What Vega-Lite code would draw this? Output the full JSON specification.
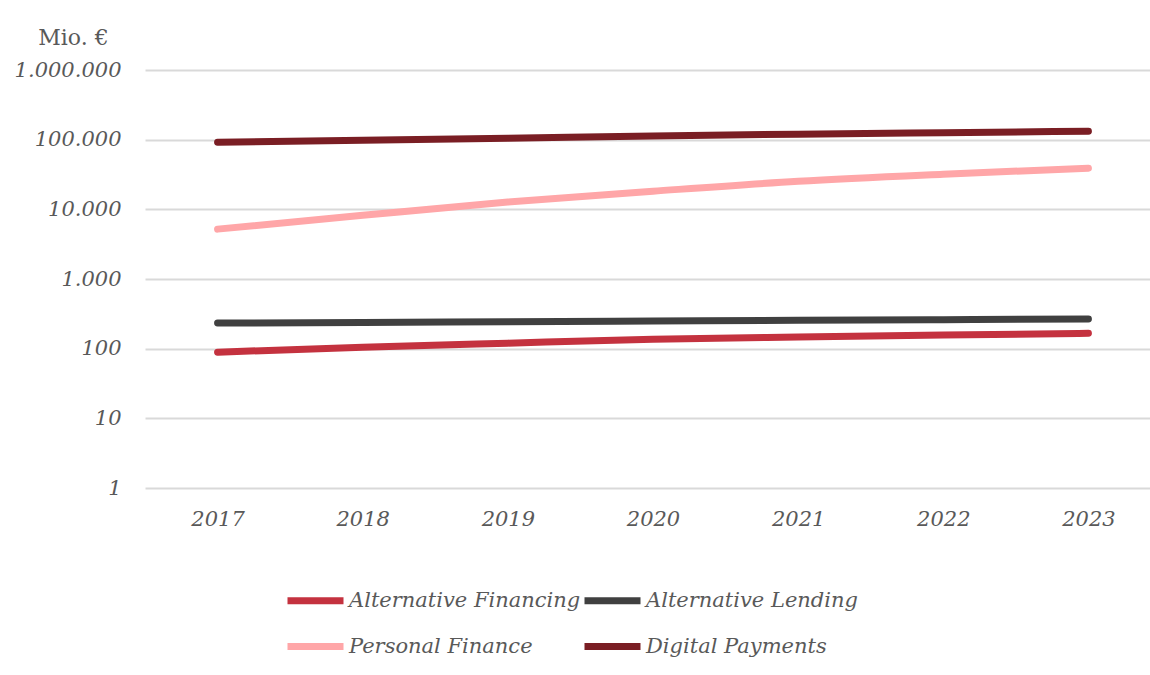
{
  "$schema": "https://vega.github.io/schema/vega-lite/v6.json",
  "autosize": {"type": "none"},
  "padding": {"left": 145, "top": 70, "right": 0, "bottom": 187},
  "width": 1016,
  "height": 418,
  "background": "white",
  "config": {
    "locale": {"number": {"decimal": ",", "thousands": ".", "grouping": [3], "currency": ["", " €"]}},
    "view": {"stroke": null},
    "font": "DejaVu Serif"
  },
  "data": {
    "values": [
      {"year": "2017", "segment": "Alternative Financing", "value": 89},
      {"year": "2018", "segment": "Alternative Financing", "value": 105},
      {"year": "2019", "segment": "Alternative Financing", "value": 120},
      {"year": "2020", "segment": "Alternative Financing", "value": 136},
      {"year": "2021", "segment": "Alternative Financing", "value": 147},
      {"year": "2022", "segment": "Alternative Financing", "value": 157},
      {"year": "2023", "segment": "Alternative Financing", "value": 166},
      {"year": "2017", "segment": "Alternative Lending", "value": 233},
      {"year": "2018", "segment": "Alternative Lending", "value": 238},
      {"year": "2019", "segment": "Alternative Lending", "value": 244},
      {"year": "2020", "segment": "Alternative Lending", "value": 250},
      {"year": "2021", "segment": "Alternative Lending", "value": 256},
      {"year": "2022", "segment": "Alternative Lending", "value": 261},
      {"year": "2023", "segment": "Alternative Lending", "value": 266},
      {"year": "2017", "segment": "Personal Finance", "value": 5200},
      {"year": "2018", "segment": "Personal Finance", "value": 8200},
      {"year": "2019", "segment": "Personal Finance", "value": 12700},
      {"year": "2020", "segment": "Personal Finance", "value": 18200},
      {"year": "2021", "segment": "Personal Finance", "value": 25300},
      {"year": "2022", "segment": "Personal Finance", "value": 32000},
      {"year": "2023", "segment": "Personal Finance", "value": 39000},
      {"year": "2017", "segment": "Digital Payments", "value": 92000},
      {"year": "2018", "segment": "Digital Payments", "value": 98000},
      {"year": "2019", "segment": "Digital Payments", "value": 105000},
      {"year": "2020", "segment": "Digital Payments", "value": 113000},
      {"year": "2021", "segment": "Digital Payments", "value": 120000},
      {"year": "2022", "segment": "Digital Payments", "value": 126000},
      {"year": "2023", "segment": "Digital Payments", "value": 132000}
    ]
  },
  "mark": {"type": "line", "strokeWidth": 7, "strokeCap": "round", "interpolate": "monotone"},
  "encoding": {
    "x": {
      "field": "year",
      "type": "ordinal",
      "scale": {"type": "point", "padding": 0.5},
      "axis": {
        "title": null,
        "labelAngle": 0,
        "domain": false,
        "ticks": false,
        "grid": false,
        "labelFont": "DejaVu Serif",
        "labelFontStyle": "italic",
        "labelFontSize": 21,
        "labelColor": "#595959",
        "labelPadding": 20
      }
    },
    "y": {
      "field": "value",
      "type": "quantitative",
      "scale": {"type": "log", "domain": [1, 1000000], "nice": false},
      "axis": {
        "values": [1, 10, 100, 1000, 10000, 100000, 1000000],
        "format": ",d",
        "title": "Mio. €",
        "titleAngle": 0,
        "titleX": -72,
        "titleY": -33,
        "titleAlign": "center",
        "titleBaseline": "middle",
        "titleFont": "DejaVu Serif",
        "titleFontWeight": "normal",
        "titleFontSize": 22,
        "titleColor": "#595959",
        "domain": false,
        "ticks": false,
        "grid": true,
        "gridColor": "#d9d9d9",
        "gridWidth": 2,
        "labelFont": "DejaVu Serif",
        "labelFontStyle": "italic",
        "labelFontSize": 21,
        "labelColor": "#595959",
        "labelPadding": 24
      }
    },
    "color": {
      "field": "segment",
      "type": "nominal",
      "scale": {
        "domain": ["Alternative Financing", "Alternative Lending", "Personal Finance", "Digital Payments"],
        "range": ["#c4323f", "#404040", "#ffa6a8", "#7a1e24"]
      },
      "legend": {
        "title": null,
        "orient": "none",
        "legendX": 139,
        "legendY": 499,
        "columns": 2,
        "direction": "horizontal",
        "symbolType": "stroke",
        "symbolSize": 3136,
        "symbolStrokeWidth": 7,
        "labelFont": "DejaVu Serif",
        "labelFontStyle": "italic",
        "labelFontSize": 21,
        "labelColor": "#595959",
        "labelLimit": 400,
        "labelOffset": 2,
        "columnPadding": -11,
        "rowPadding": -17
      }
    }
  }
}
